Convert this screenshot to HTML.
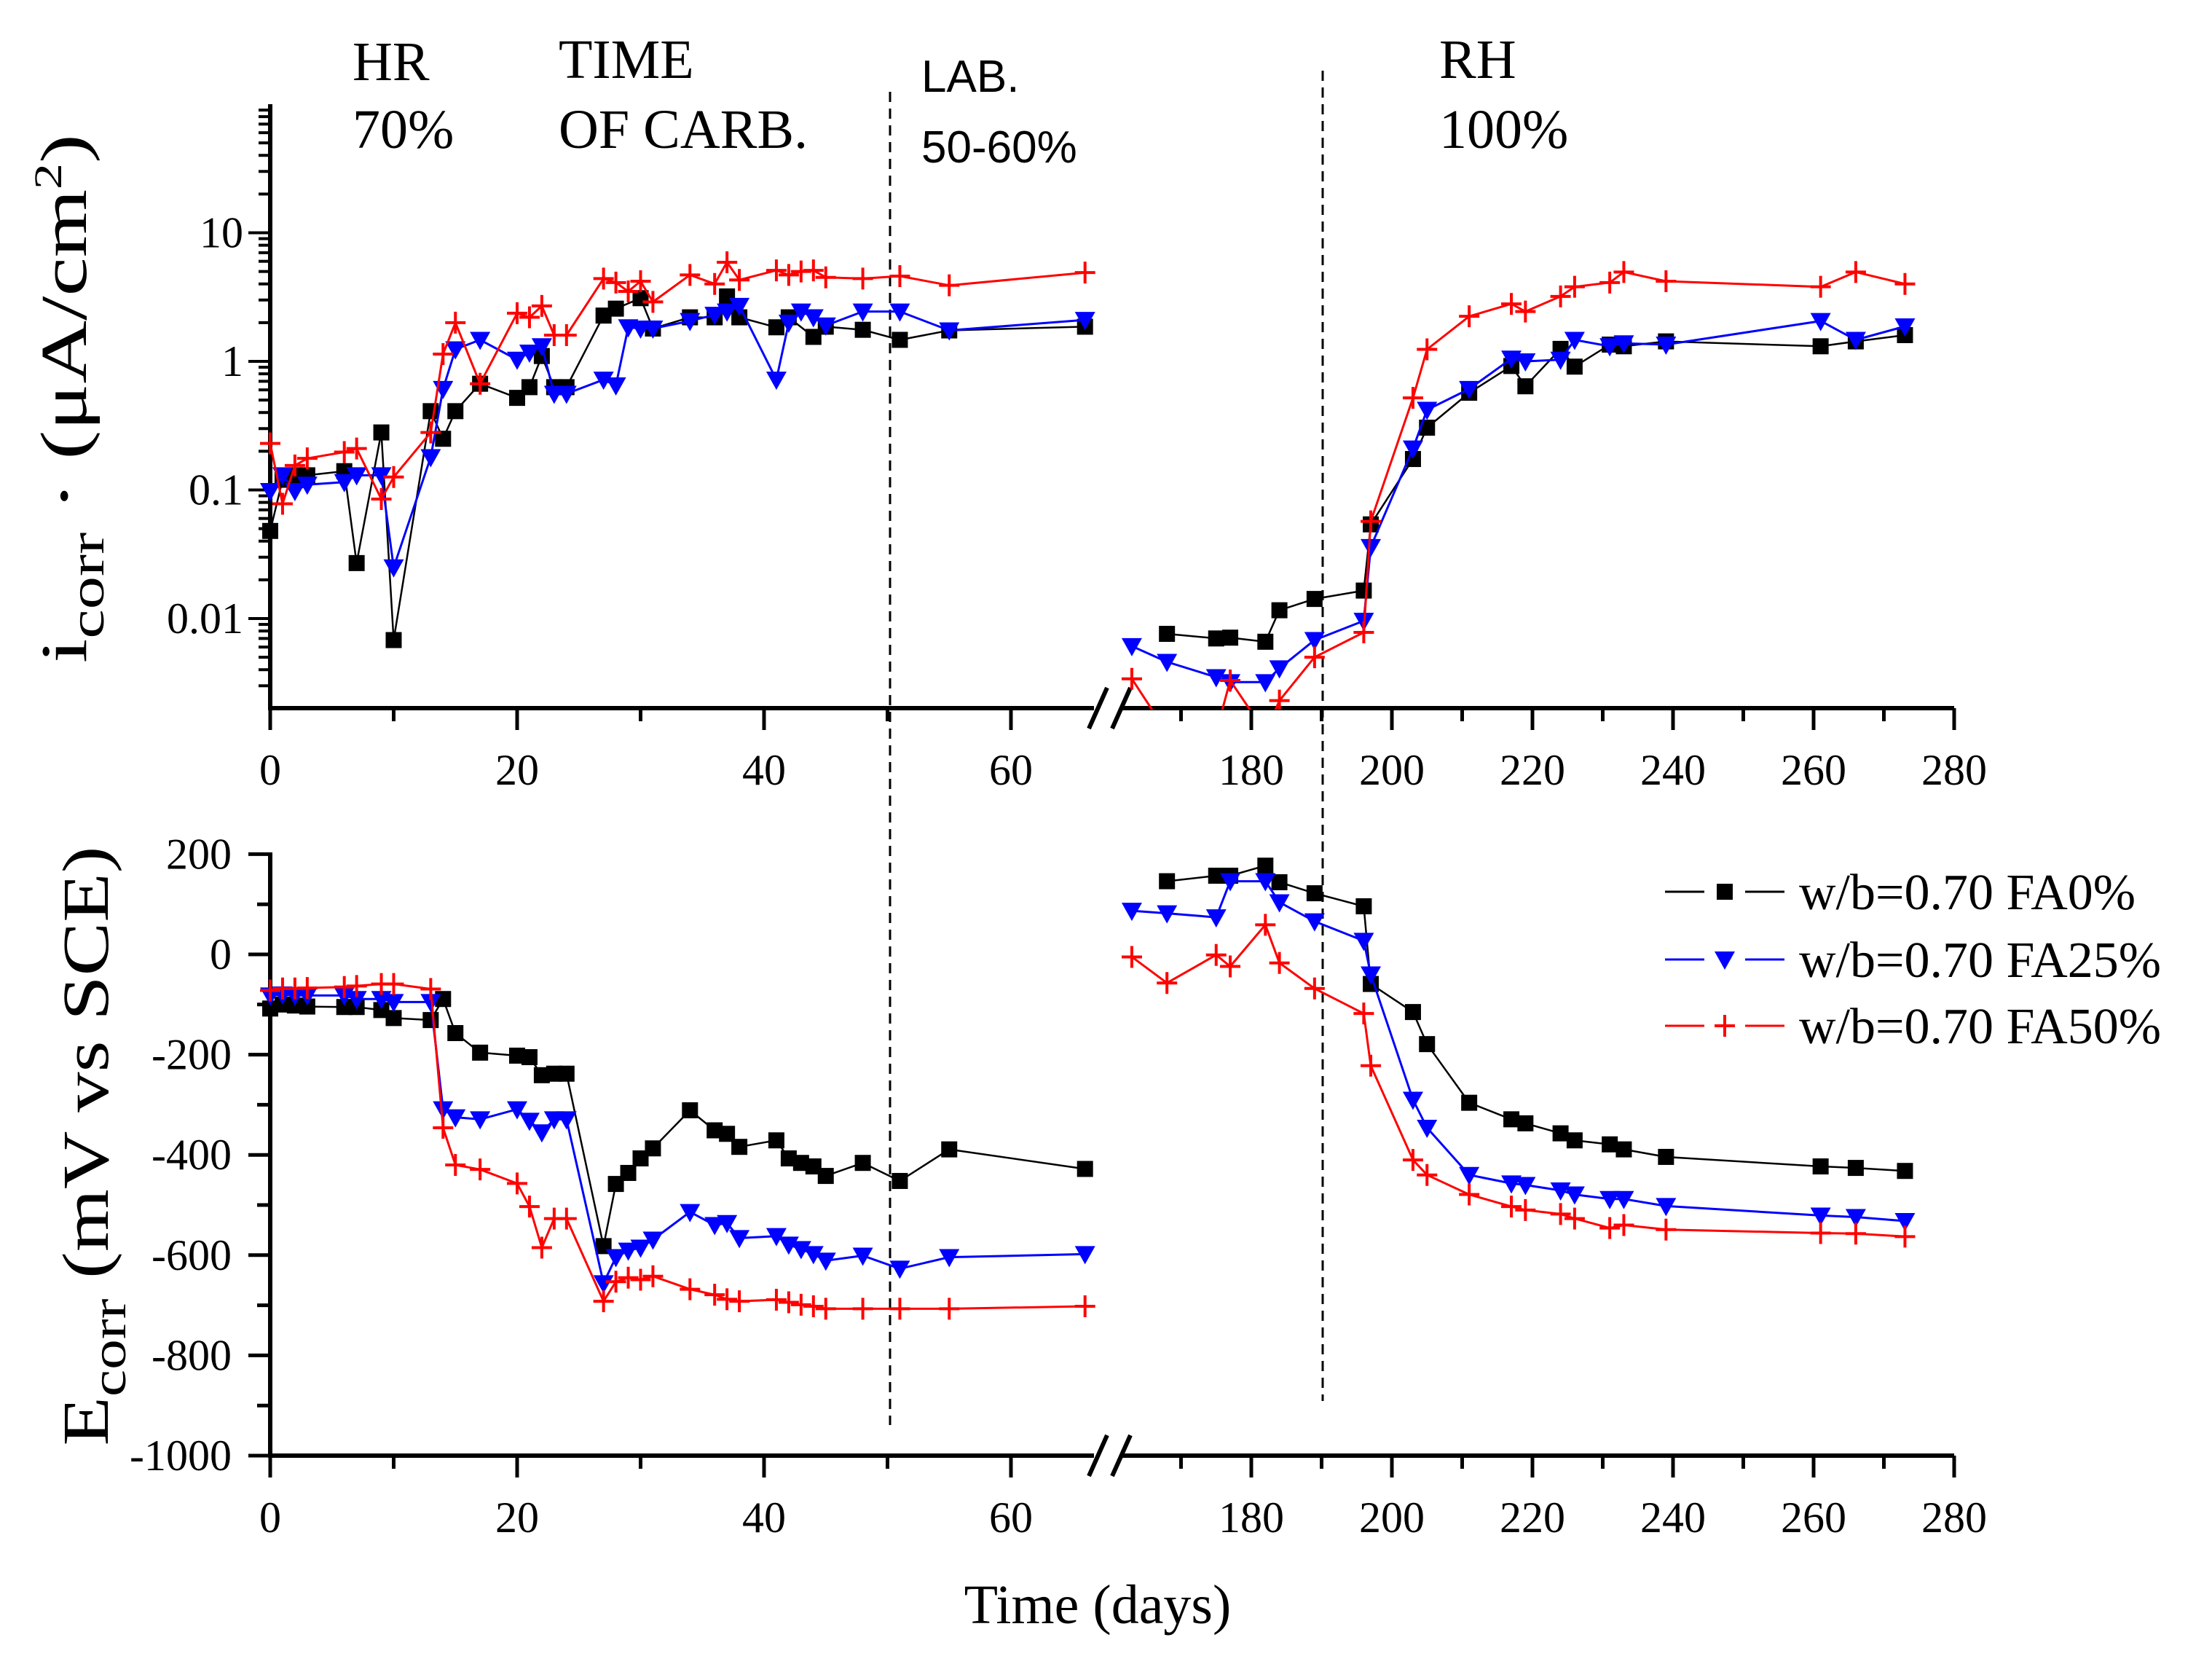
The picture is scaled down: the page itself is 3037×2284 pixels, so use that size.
<!DOCTYPE html>
<html><head><meta charset="utf-8"><style>
html,body{margin:0;padding:0;background:#fff;}
svg{display:block;}
text{font-family:"Liberation Serif",serif;fill:#000;}
.sans{font-family:"Liberation Sans",sans-serif;}
</style></head><body>
<svg id="chart" xmlns="http://www.w3.org/2000/svg" width="3037" height="2284" viewBox="0 0 3037 2284">
<defs>
<clipPath id="clipTop"><rect x="340" y="140" width="2400" height="834"/></clipPath>
</defs>
<g id="annotations">
<text x="484" y="110" font-size="76">HR</text>
<text x="484" y="203" font-size="76">70%</text>
<text x="767" y="107" font-size="76">TIME</text>
<text x="767" y="203" font-size="76">OF CARB.</text>
<text class="sans" x="1265" y="126" font-size="62">LAB.</text>
<text class="sans" x="1265" y="223" font-size="62">50-60%</text>
<text x="1976" y="107" font-size="76">RH</text>
<text x="1976" y="203" font-size="76">100%</text>
<line x1="1222" y1="126" x2="1222" y2="1956" stroke="#000" stroke-width="3" stroke-dasharray="14,9"/>
<line x1="1816" y1="97" x2="1816" y2="1923" stroke="#000" stroke-width="3" stroke-dasharray="14,9"/>
<text transform="translate(118,547) rotate(-90)" text-anchor="middle" font-size="90" textLength="726" lengthAdjust="spacingAndGlyphs">i<tspan font-size="68" dy="24">corr</tspan><tspan dy="-24"> · (μA/cm</tspan><tspan font-size="54" dy="-34">2</tspan><tspan dy="34">)</tspan></text>
<text transform="translate(148,1573) rotate(-90)" text-anchor="middle" font-size="90" textLength="823" lengthAdjust="spacingAndGlyphs">E<tspan font-size="68" dy="24">corr</tspan><tspan dy="-24"> (mV vs  SCE)</tspan></text>
<text x="1507" y="2228" text-anchor="middle" font-size="76">Time (days)</text>
</g>
<g id="axes"></g>
<g id="series"></g>
<g id="legend"></g>
</svg>
<script>
// ---- data ----
const daysL = [0,1,2,3,6,7,9,10,13,14,15,17,20,21,22,23,24,27,28,29,30,31,34,36,37,38,41,42,43,44,45,48,51,55,66];
const icorrBlackL = [0.048,0.12,0.13,0.13,0.14,0.027,0.28,0.0068,0.41,0.25,0.41,0.67,0.52,0.63,1.1,0.63,0.63,2.27,2.57,null,3.1,1.8,2.2,2.2,3.2,2.2,1.84,2.2,null,1.55,1.86,1.76,1.47,1.74,1.86];
const icorrBlueL = [0.098,0.13,0.098,0.11,0.115,0.13,0.13,0.025,0.18,0.61,1.24,1.47,1.03,1.17,1.31,0.56,0.56,0.72,0.65,1.84,1.8,1.8,2.06,2.3,2.44,2.7,0.72,2.0,2.44,2.2,1.9,2.44,2.44,1.74,2.1];
const icorrRedL = [0.23,0.078,0.155,0.176,0.197,0.21,0.085,0.126,0.28,1.14,2.0,0.67,2.37,2.2,2.7,1.6,1.6,4.4,4.1,3.5,4.2,2.9,4.7,4.0,5.9,4.3,5.1,4.7,5.0,5.1,4.5,4.4,4.6,3.9,4.9];
const ecorrBlackL = [-108,-100,-102,-104,-105,-105,-111,-127,-131,-89,-157,-196,-202,-205,-241,-238,-238,-582,-458,-436,-407,-387,-311,-351,-358,-384,-371,-407,-416,-423,-442,-416,-452,-389,-428];
const ecorrBlueL = [-82,-80,-82,-82,-82,-89,-89,-95,-95,-309,-325,-329,-309,-332,-355,-329,-329,-656,-604,-591,-585,-569,-514,-540,-536,-566,-562,-579,-588,-598,-611,-601,-627,-604,-598];
const ecorrRedL = [-72,-68,-68,-67,-65,-63,-59,-59,-69,-346,-420,-429,-457,-503,-585,-527,-527,-692,-653,-645,-649,-642,-668,-679,-688,-692,-689,-694,-699,-702,-707,-707,-707,-707,-702];

const daysR = [163,168,175,177,182,184,189,196,197,203,205,211,217,219,224,226,231,233,239,261,266,273];
const icorrBlackR = [null,0.0076,0.0070,0.0071,0.0066,0.0116,0.0142,0.0165,0.054,0.174,0.305,0.57,0.92,0.64,1.25,0.91,1.35,1.31,1.43,1.31,1.43,1.6];
const icorrBlueR = [0.0061,0.0046,0.0035,0.0032,0.0032,0.0041,0.0068,0.0096,0.036,0.21,0.42,0.61,1.05,1.0,1.03,1.47,1.31,1.38,1.35,2.06,1.47,1.87];
const icorrRedR = [0.0034,0.0013,0.0013,0.0033,0.0013,0.0023,0.005,0.0078,0.057,0.52,1.24,2.24,2.8,2.44,3.2,3.8,4.1,4.95,4.2,3.8,4.95,4.0];
const ecorrBlackR = [null,146,157,157,177,144,122,96,-59,-115,-179,-296,-329,-337,-357,-371,-379,-389,-404,-423,-426,-432];
const ecorrBlueR = [87,82,74,146,146,104,66,27,-40,-290,-346,-440,-457,-460,-471,-479,-488,-488,-502,-521,-524,-532];
const ecorrRedR = [-5,-57,-1,-24,59,-17,-68,-118,-222,-410,-440,-479,-503,-510,-518,-527,-546,-540,-549,-556,-557,-563];

const xTicksL = [0,10,20,30,40,50,60];
const xLabelsL = [0,20,40,60];
const xTicksR = [170,180,190,200,210,220,230,240,250,260,270,280];
const xLabelsR = [180,200,220,240,260,280];
const yTopDecades = [0.01,0.1,1,10];
const yTopLabels = ["0.01","0.1","1","10"];
const yBotTicks = [200,100,0,-100,-200,-300,-400,-500,-600,-700,-800,-900,-1000];
const yBotLabels = [200,0,-200,-400,-600,-800,-1000];
const legendNames = ["w/b=0.70 FA0%","w/b=0.70 FA25%","w/b=0.70 FA50%"];

// ---- scales ----
function xS(d){ return d < 100 ? 371 + 16.95*d : 1718 + 9.65*(d-180); }
function yT(v){ return 496 - 176.5*Math.log10(v); }
function yB(v){ return 1310 - 0.688*v; }

const NS = "http://www.w3.org/2000/svg";
function mk(tag, attrs, parent){
  const e = document.createElementNS(NS, tag);
  for (const k in attrs) e.setAttribute(k, attrs[k]);
  parent.appendChild(e);
  return e;
}
const axes = document.getElementById('axes');
const series = document.getElementById('series');
const legend = document.getElementById('legend');

// ---- axes ----
function drawXAxis(y, name){
  const g = mk('g', {}, axes);
  
  
  const l1 = mk('line', {x1:368, y1:y, x2:1502, y2:y, stroke:'#000', 'stroke-width':6}, g);
  
  
  const l2 = mk('line', {x1:1540, y1:y, x2:2683, y2:y, stroke:'#000', 'stroke-width':6}, g);
  
  
  const br = mk('path', {d:`M1495 ${y+28} L1520 ${y-28} M1527 ${y+28} L1552 ${y-28}`, stroke:'#000', 'stroke-width':6, fill:'none'}, g);
  
  
  const all = xTicksL.concat(xTicksR);
  all.forEach(d => {
    const major = xLabelsL.includes(d) || xLabelsR.includes(d);
    const t = mk('line', {x1:xS(d), y1:y, x2:xS(d), y2:y+(major?30:18), stroke:'#000', 'stroke-width':5}, g);
    
    
  });
  xLabelsL.concat(xLabelsR).forEach(d => {
    const t = mk('text', {x:xS(d), y:y+105, 'text-anchor':'middle', 'font-size':60}, g);
    t.textContent = d;
    
    
  });
}
drawXAxis(972, 'top-x-axis');
drawXAxis(1998, 'bottom-x-axis');

// top y axis (log)
(function(){
  const g = mk('g', {}, axes);
  
  
  const l = mk('line', {x1:371, y1:143, x2:371, y2:975, stroke:'#000', 'stroke-width':6}, g);
  
  
  for (let e = -3; e <= 1; e++){
    for (let m = 1; m <= 9; m++){
      const v = m*Math.pow(10,e);
      const y = yT(v);
      if (y < 140 || y > 972) continue;
      const t = mk('line', {x1:371, y1:y, x2:371-(m===1?30:16), y2:y, stroke:'#000', 'stroke-width':4}, g);
      
      
    }
  }
  yTopDecades.forEach((v,i) => {
    const t = mk('text', {x:334, y:yT(v)+20, 'text-anchor':'end', 'font-size':60}, g);
    t.textContent = yTopLabels[i];
    
    
  });
})();

// bottom y axis
(function(){
  const g = mk('g', {}, axes);
  
  
  const l = mk('line', {x1:371, y1:1170, x2:371, y2:2001, stroke:'#000', 'stroke-width':6}, g);
  
  
  yBotTicks.forEach(v => {
    const major = yBotLabels.includes(v);
    const t = mk('line', {x1:371, y1:yB(v), x2:371-(major?30:18), y2:yB(v), stroke:'#000', 'stroke-width':5}, g);
    
    
  });
  yBotLabels.forEach(v => {
    const t = mk('text', {x:318, y:yB(v)+20, 'text-anchor':'end', 'font-size':60}, g);
    t.textContent = v;
    
    
  });
})();

// ---- markers ----
function marker(kind, cx, cy, color, parent){
  let m;
  if (kind === 'square'){
    m = mk('rect', {x:cx-11, y:cy-11, width:22, height:22, fill:color}, parent);
  } else if (kind === 'tri'){
    m = mk('path', {d:`M${cx-14} ${cy-11} L${cx+14} ${cy-11} L${cx} ${cy+14} Z`, fill:color}, parent);
  } else {
    m = mk('path', {d:`M${cx-14} ${cy} L${cx+14} ${cy} M${cx} ${cy-15} L${cx} ${cy+15}`, stroke:color, 'stroke-width':4, fill:'none'}, parent);
  }
  return m;
}

function drawSeries(days, vals, yf, color, kind, width, name, clip){
  const g = mk('g', clip ? {'clip-path':'url(#clipTop)'} : {}, series);
  
  
  const pts = [];
  days.forEach((d,i) => { if (vals[i] !== null) pts.push([xS(d), yf(vals[i])]); });
  const pl = mk('polyline', {points:pts.map(p=>p[0].toFixed(1)+','+p[1].toFixed(1)).join(' '), fill:'none', stroke:color, 'stroke-width':width, 'stroke-linejoin':'round'}, g);
  
  
  pts.forEach(p => {
    const m = marker(kind, p[0], p[1], color, g);
    
    
  });
}
const specs = [
  ['#000','square',2.5,'fa0'],
  ['#0000ff','tri',3,'fa25'],
  ['#ff0000','cross',3,'fa50']
];
const topL = [icorrBlackL, icorrBlueL, icorrRedL];
const topR = [icorrBlackR, icorrBlueR, icorrRedR];
const botL = [ecorrBlackL, ecorrBlueL, ecorrRedL];
const botR = [ecorrBlackR, ecorrBlueR, ecorrRedR];
for (let s = 0; s < 3; s++){
  const [c,k,w,n] = specs[s];
  drawSeries(daysL, topL[s], yT, c, k, w, 'icorr-'+n+'-early', true);
  drawSeries(daysR, topR[s], yT, c, k, w, 'icorr-'+n+'-late', true);
  drawSeries(daysL, botL[s], yB, c, k, w, 'ecorr-'+n+'-early', false);
  drawSeries(daysR, botR[s], yB, c, k, w, 'ecorr-'+n+'-late', false);
}

// ---- legend ----
const legendY = [1224, 1317, 1408];
for (let s = 0; s < 3; s++){
  const [c,k,w,n] = specs[s];
  const g = mk('g', {}, legend);
  
  
  const y = legendY[s];
  const a = mk('line', {x1:2286, y1:y, x2:2340, y2:y, stroke:c, 'stroke-width':3}, g);
  
  
  const b = mk('line', {x1:2396, y1:y, x2:2450, y2:y, stroke:c, 'stroke-width':3}, g);
  
  
  const m = marker(k, 2368, y, c, g);
  
  
  const t = mk('text', {x:2470, y:y+24, 'font-size':70}, g);
  t.textContent = legendNames[s];
  
  
}
</script>
</body></html>
